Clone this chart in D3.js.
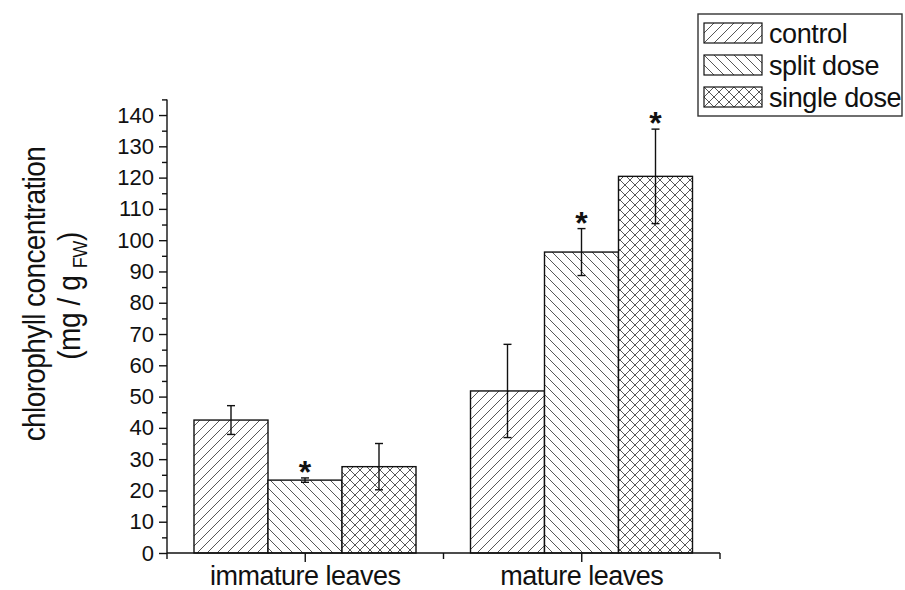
<!DOCTYPE html>
<html>
<head>
<meta charset="utf-8">
<script src="https://cdn.jsdelivr.net/npm/d3@7"></script>
<style>
  html, body { margin: 0; padding: 0; background: #fff; }
  svg { display: block; font-family: "Liberation Sans", Arial, sans-serif; }
</style>
</head>
<body>
<svg id="chart" width="905" height="590"></svg>
<script>
// ---- data ----
const categories = ["immature leaves", "mature leaves"];
const seriesNames = ["control", "split dose", "single dose"];
const controlValues = [42.5, 51.8];
const splitDoseValues = [23.3, 96.2];
const singleDoseValues = [27.6, 120.4];
const controlErrors = [4.6, 14.9];
const splitDoseErrors = [0.7, 7.5];
const singleDoseErrors = [7.4, 15.1];
const controlSignificant = [false, false];
const splitDoseSignificant = [true, true];
const singleDoseSignificant = [false, true];
const yMajorTicks = [0, 10, 20, 30, 40, 50, 60, 70, 80, 90, 100, 110, 120, 130, 140];
const yMinorTicks = [5, 15, 25, 35, 45, 55, 65, 75, 85, 95, 105, 115, 125, 135, 145];
const yLabelLine1 = "chlorophyll concentration";

const FONT = "'Liberation Sans', Arial, sans-serif";

// ---- build table ----
const seriesValues = [controlValues, splitDoseValues, singleDoseValues];
const seriesErrors = [controlErrors, splitDoseErrors, singleDoseErrors];
const seriesSig = [controlSignificant, splitDoseSignificant, singleDoseSignificant];
const patterns = ["pat-fwd", "pat-back", "pat-cross"];
const rows = [];
categories.forEach((c, ci) => {
  seriesNames.forEach((s, si) => {
    rows.push({cat: c, series: s, si, value: seriesValues[si][ci],
               err: seriesErrors[si][ci], sig: seriesSig[si][ci]});
  });
});

const svg = d3.select("#chart");

// ---- patterns ----
const defs = svg.append("defs");
function mkPattern(id, paths) {
  const p = defs.append("pattern").attr("id", id)
    .attr("patternUnits", "userSpaceOnUse").attr("width", 10).attr("height", 10);
  p.append("rect").attr("width", 10).attr("height", 10).attr("fill", "#fff");
  paths.forEach(d => p.append("path").attr("d", d)
    .attr("stroke", "#444").attr("stroke-width", 0.9).attr("fill", "none"));
}
const fwd = "M-1,1 L1,-1 M0,10 L10,0 M9,11 L11,9";
const back = "M-1,9 L1,11 M0,0 L10,10 M9,-1 L11,1";
mkPattern("pat-fwd", [fwd]);
mkPattern("pat-back", [back]);
mkPattern("pat-cross", [fwd, back]);

// ---- scales ----
const x0 = d3.scaleBand().domain(categories).range([167, 720]).paddingInner(0).paddingOuter(0);
const x1 = d3.scaleBand().domain(seriesNames).range([27, x0.bandwidth() - 27.5]).padding(0);
const y = d3.scaleLinear().domain([0, 145]).range([553, 99.4]);

// ---- bars ----
const g = svg.append("g");
g.selectAll("rect.bar").data(rows).join("rect")
  .attr("class", "bar")
  .attr("x", d => x0(d.cat) + x1(d.series))
  .attr("y", d => y(d.value))
  .attr("width", x1.bandwidth())
  .attr("height", d => y(0) - y(d.value))
  .attr("fill", d => `url(#${patterns[d.si]})`)
  .attr("stroke", "#111").attr("stroke-width", 1.4);

// ---- error bars ----
const eb = g.selectAll("g.err").data(rows).join("g").attr("class", "err")
  .attr("transform", d => `translate(${x0(d.cat) + x1(d.series) + x1.bandwidth() / 2},0)`);
eb.append("line").attr("y1", d => y(d.value + d.err)).attr("y2", d => y(d.value - d.err))
  .attr("stroke", "#111").attr("stroke-width", 1.4);
eb.append("line").attr("x1", -4).attr("x2", 4)
  .attr("y1", d => y(d.value + d.err)).attr("y2", d => y(d.value + d.err))
  .attr("stroke", "#111").attr("stroke-width", 1.4);
eb.append("line").attr("x1", -4).attr("x2", 4)
  .attr("y1", d => y(d.value - d.err)).attr("y2", d => y(d.value - d.err))
  .attr("stroke", "#111").attr("stroke-width", 1.4);
eb.filter(d => d.sig).append("text")
  .attr("y", d => y(d.value + d.err) + 5)
  .attr("text-anchor", "middle")
  .attr("font-size", 32).attr("font-weight", "bold").attr("fill", "#111")
  .attr("font-family", FONT)
  .text("*");

// ---- y axis ----
const yAxis = svg.append("g").attr("transform", "translate(167,0)");
yAxis.call(d3.axisLeft(y).tickValues(yMajorTicks).tickSize(8).tickPadding(5).tickFormat(d3.format("d")));
yAxis.append("g").call(d3.axisLeft(y).tickValues(yMinorTicks).tickSize(5).tickFormat(""))
  .select(".domain").remove();
yAxis.selectAll(".domain").attr("d", `M0,${y(145)}V${y(0)}`);
yAxis.selectAll("line, path").attr("stroke", "#111").attr("stroke-width", 1.4);
yAxis.selectAll("text").attr("font-size", 22).attr("fill", "#111")
  .attr("font-family", FONT);

// ---- x axis ----
const xAxis = svg.append("g").attr("transform", "translate(0,553)");
xAxis.call(d3.axisBottom(x0).tickSize(9).tickPadding(9));
xAxis.select(".domain").attr("d", "M167,0H720");
const boundaries = [167].concat(categories.map(c => x0(c) + x0.bandwidth()));
xAxis.selectAll("line.minor").data(boundaries).join("line").attr("class", "minor")
  .attr("x1", d => d).attr("x2", d => d).attr("y1", 0).attr("y2", 6);
xAxis.selectAll("line, path").attr("stroke", "#111").attr("stroke-width", 1.4);
xAxis.selectAll(".tick text").attr("font-size", 27).attr("letter-spacing", -0.5)
  .attr("fill", "#111").attr("font-family", FONT)
  .attr("dy", null).attr("y", 32);

// ---- y label ----
svg.append("text").attr("transform", "translate(45,294) rotate(-90) scale(1,1.15)")
  .attr("text-anchor", "middle").attr("font-size", 28).attr("letter-spacing", -0.6)
  .attr("fill", "#111").attr("font-family", FONT)
  .text(yLabelLine1);
const l2 = svg.append("text").attr("transform", "translate(80,296) rotate(-90) scale(1,1.15)")
  .attr("text-anchor", "middle").attr("font-size", 28).attr("letter-spacing", -0.4)
  .attr("fill", "#111").attr("font-family", FONT);
l2.append("tspan").text("(mg / g ");
l2.append("tspan").attr("font-size", 18).attr("dy", 6).text("FW");
l2.append("tspan").attr("dy", -6).text(")");

// ---- legend ----
const lg = svg.append("g");
lg.append("rect").attr("x", 698).attr("y", 14).attr("width", 204).attr("height", 102)
  .attr("fill", "#fff").attr("stroke", "#333").attr("stroke-width", 1.4);
const li = lg.selectAll("g.item").data(seriesNames).join("g").attr("class", "item")
  .attr("transform", (d, i) => `translate(704,${23 + i * 32})`);
li.append("rect").attr("width", 58).attr("height", 20)
  .attr("fill", (d, i) => `url(#${patterns[i]})`).attr("stroke", "#111").attr("stroke-width", 1.2);
li.append("text").attr("x", 65).attr("y", 20).attr("font-size", 27).attr("letter-spacing", -0.4)
  .attr("fill", "#111").attr("font-family", FONT)
  .text(d => d);
</script>
</body>
</html>
